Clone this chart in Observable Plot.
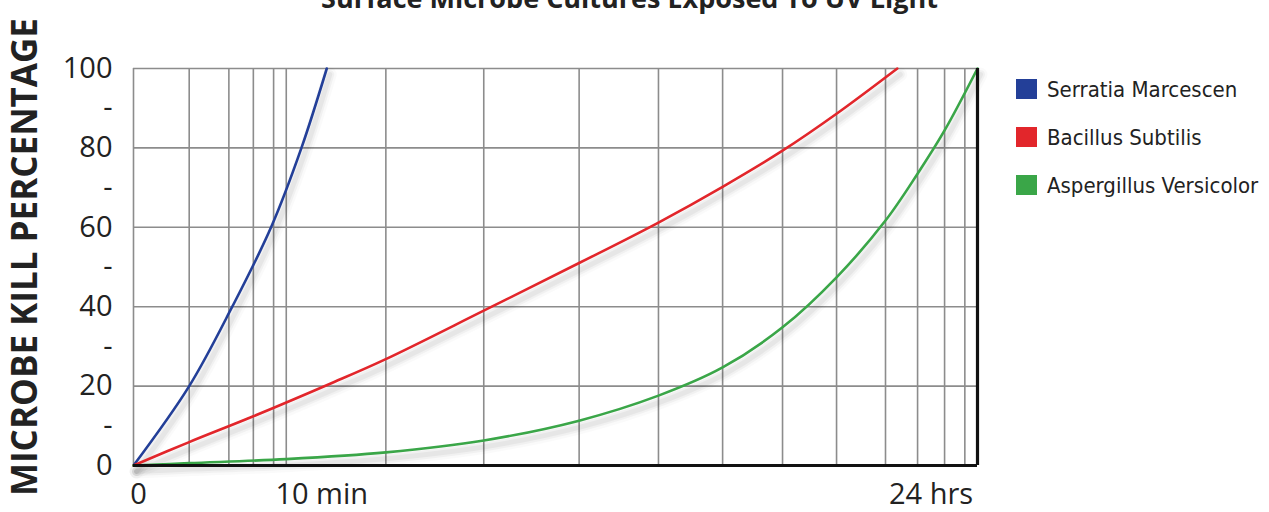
<!DOCTYPE html>
<html>
<head>
<meta charset="utf-8">
<script src="https://cdn.jsdelivr.net/npm/d3@7"></script>
<script src="https://cdn.jsdelivr.net/npm/@observablehq/plot@0.6"></script>
<style>
  html, body { margin: 0; padding: 0; background: #fff; overflow: hidden; }
  #wrap { position: relative; width: 1269px; height: 512px; }
  #legend { position: absolute; left: 1016px; top: 65px; font-family: "Liberation Sans Narrow", "DejaVu Sans Condensed", sans-serif; font-stretch: condensed; font-size: 22px; color: #222; }
  #legend .row { display: flex; align-items: center; height: 48px; }
  #legend .sw { width: 21px; height: 20px; margin-right: 10px; }
</style>
</head>
<body>
<div id="wrap"><div id="legend"></div></div>
<script>
// ---- data ----
const title = "Surface Microbe Cultures Exposed To UV Light";
const yLabel = "MICROBE KILL PERCENTAGE";
const seriesNames = ["Serratia Marcescen", "Bacillus Subtilis", "Aspergillus Versicolor"];
const seriesColors = ["#233f98", "#e2262b", "#3aa648"];

// x is a position along the (non-linear) time axis, 0 = start, 100 = 24 hrs
const serratiaX = [0, 6.6, 11.7, 16.3, 19.9, 22.9];
const serratiaY = [0, 20, 40, 60, 80, 100];

const bacillusX = [0, 6.6, 14.2, 23.3, 29.7, 41.5, 52.8, 62.2, 69.8, 76.9, 83.3, 90.5];
const bacillusY = [0, 5.9, 12.4, 20.6, 26.6, 39.0, 51.0, 61.2, 70.2, 79.3, 88.6, 100];

const aspergillusX = [0, 6.6, 18.1, 29.9, 41.5, 52.8, 62.2, 69.8, 76.9, 83.3, 89.1, 92.9, 96.1, 100];
const aspergillusY = [0, 0.6, 1.6, 3.3, 6.3, 11.3, 17.6, 24.7, 34.8, 47.4, 61.7, 73.5, 84.4, 100];

const gridX = [6.6, 11.3, 14.2, 16.6, 18.1, 29.9, 41.5, 52.8, 62.2, 69.8, 76.9, 83.3, 89.1, 92.9, 96.1, 98.5];
const gridY = [20, 40, 60, 80];

const xTickPos = [0.6, 22.3, 94.5];
const xTickLabels = ["0", "10 min", "24 hrs"];
const yTicks = [0, 10, 20, 30, 40, 50, 60, 70, 80, 90, 100];

// ---- build table ----
const seriesX = [serratiaX, bacillusX, aspergillusX];
const seriesY = [serratiaY, bacillusY, aspergillusY];
const rows = [];
seriesNames.forEach((name, s) => {
  seriesX[s].forEach((x, i) => rows.push({series: name, x, y: seriesY[s][i]}));
});
const xLabelMap = new Map(xTickPos.map((p, i) => [p, xTickLabels[i]]));

// soft drop shadow built from a few wide, faint strokes
const shadow = (w, o) => Plot.line(rows, {x: "x", y: "y", z: "series", stroke: "#000", strokeOpacity: o, strokeWidth: w, dx: 3, dy: 6, curve: "catmull-rom"});

const chart = Plot.plot({
  width: 1269,
  height: 512,
  marginLeft: 133,
  marginRight: 292,
  marginTop: 68,
  marginBottom: 47,
  style: {fontFamily: "'Open Sans', sans-serif", fontSize: "29px", color: "#222", background: "#fff"},
  x: {domain: [0, 100], ticks: xTickPos, tickFormat: d => xLabelMap.get(d), tickSize: 0, tickPadding: 18, label: null},
  y: {domain: [0, 100], ticks: yTicks, tickFormat: d => d % 20 === 0 ? String(d) : "-", tickSize: 0, tickPadding: 21, label: null},
  color: {domain: seriesNames, range: seriesColors},
  marks: [
    Plot.ruleX(gridX, {stroke: "#8c8c8c", strokeWidth: 1.6}),
    Plot.ruleY(gridY, {stroke: "#8c8c8c", strokeWidth: 1.6}),
    Plot.ruleY([100], {stroke: "#8c8c8c", strokeWidth: 1.6}),
    Plot.ruleX([0], {stroke: "#8c8c8c", strokeWidth: 1.6}),
    shadow(14, 0.02),
    shadow(9, 0.035),
    shadow(5, 0.045),
    Plot.line(rows, {x: "x", y: "y", z: "series", stroke: "series", strokeWidth: 2.6, curve: "catmull-rom"}),
    Plot.ruleY([0], {stroke: "#111", strokeWidth: 3.2}),
    Plot.ruleX([100], {stroke: "#111", strokeWidth: 3.2}),
    Plot.text([yLabel], {frameAnchor: "left", textAnchor: "middle", rotate: -90, dx: -108, dy: -10, fontSize: 35, fontWeight: "bold", fill: "#222"}),
    Plot.text([title], {frameAnchor: "top", dx: 74, dy: -61, lineAnchor: "bottom", fontSize: 27, fontWeight: "bold", fill: "#222"})
  ]
});

document.getElementById("wrap").prepend(chart);

// legend
const legend = document.getElementById("legend");
seriesNames.forEach((name, i) => {
  const row = document.createElement("div");
  row.className = "row";
  const sw = document.createElement("div");
  sw.className = "sw";
  sw.style.background = seriesColors[i];
  const t = document.createElement("span");
  t.textContent = name;
  row.append(sw, t);
  legend.append(row);
});
</script>
</body>
</html>
